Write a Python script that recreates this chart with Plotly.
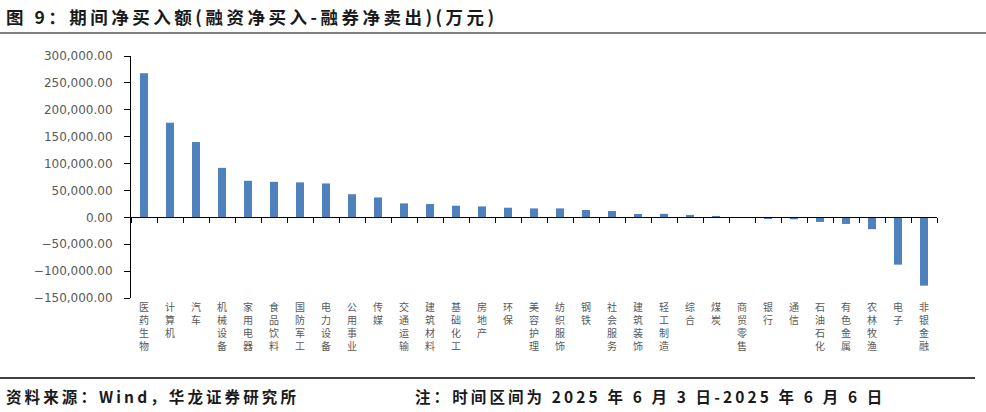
import plotly.graph_objects as go

# 行业与期间净买入额(万元)
industries = ['医药生物', '计算机', '汽车', '机械设备', '家用电器', '食品饮料', '国防军工',
              '电力设备', '公用事业', '传媒', '交通运输', '建筑材料', '基础化工', '房地产',
              '环保', '美容护理', '纺织服饰', '钢铁', '社会服务', '建筑装饰', '轻工制造',
              '综合', '煤炭', '商贸零售', '银行', '通信', '石油石化', '有色金属', '农林牧渔',
              '电子', '非银金融']
net_buy = [268000, 176000, 140000, 92000, 68000, 66000, 65000,
           63000, 43000, 37000, 25900, 24700, 21600, 20300,
           17900, 16600, 16600, 13600, 11700, 6200, 6500,
           4300, 800, -500, -1800, -3700, -8600, -12300, -22000,
           -88000, -127000]
y_ticks = list(range(-150000, 300001, 50000))

title_text = '图 9：期间净买入额(融资净买入-融券净卖出)(万元)'
source_text = '资料来源：Wind，华龙证券研究所'
note_text = '注：时间区间为 2025 年 6 月 3 日-2025 年 6 月 6 日'

W, H = 986, 412
L, R, T, B = 131, 937, 56, 298  # plot area in pixels

# stacked vertical labels, one character per line
stacked = ['<br>'.join(s) for s in industries]


def spaced(s):
    # mimic the wide letter spacing of the original
    return '\u2009'.join(s)


def px_to_paper_x(px):
    return (px - L) / (R - L)


def px_to_paper_y(py):
    return (B - py) / (B - T)


fig = go.Figure()
fig.add_trace(go.Bar(x=industries, y=net_buy, marker_color='#4F81BD',
                     marker_line_width=0, showlegend=False, xaxis='x'))
# carrier for the bottom label axis
fig.add_trace(go.Scatter(x=industries, y=net_buy, mode='markers', marker_opacity=0,
                         hoverinfo='skip', showlegend=False, xaxis='x2'))

n = len(industries)
fig.update_layout(
    width=W, height=H,
    margin=dict(l=L, r=W - R, t=T, b=H - B, pad=0),
    paper_bgcolor='white', plot_bgcolor='white',
    bargap=0.69,
    font=dict(family='DejaVu Sans', color='#595959'),
    xaxis=dict(
        type='category', anchor='free', position=1 / 3, range=[-0.5, n - 0.5],
        showline=True, linecolor='black', linewidth=1,
        ticks='outside', tickson='boundaries', ticklen=5, tickcolor='black',
        showticklabels=False, showgrid=False, zeroline=False, automargin=False,
    ),
    xaxis2=dict(
        type='category', overlaying='x', matches='x', anchor='y', side='bottom',
        showline=False, ticks='', showgrid=False, zeroline=False, automargin=False,
        tickmode='array', tickvals=industries, ticktext=stacked,
        tickfont=dict(family='Noto Sans CJK SC', size=10, color='#595959'),
        tickangle=0, ticklabelstandoff=2,
    ),
    yaxis=dict(
        range=[-150000, 300000], tickvals=y_ticks, tickformat=',.2f',
        showline=True, linecolor='black', linewidth=1,
        ticks='outside', ticklen=6, tickcolor='black',
        showgrid=False, zeroline=False, automargin=False,
        tickfont=dict(family='DejaVu Sans', size=12, color='#595959'),
        ticklabelstandoff=9,
    ),
    shapes=[
        dict(type='line', xref='paper', yref='paper',
             x0=px_to_paper_x(0), x1=px_to_paper_x(W),
             y0=px_to_paper_y(33), y1=px_to_paper_y(33),
             line=dict(color='#808080', width=2)),
        dict(type='line', xref='paper', yref='paper',
             x0=px_to_paper_x(0), x1=px_to_paper_x(975),
             y0=px_to_paper_y(378), y1=px_to_paper_y(378),
             line=dict(color='#404040', width=2)),
    ],
    annotations=[
        dict(text='<b>' + spaced(title_text) + '</b>',
             xref='paper', yref='paper', x=px_to_paper_x(4), y=px_to_paper_y(17),
             xanchor='left', yanchor='middle', showarrow=False,
             font=dict(family='Noto Sans CJK SC', size=17.5, color='#1a1a1a')),
        dict(text='<b>' + spaced(source_text) + '</b>',
             xref='paper', yref='paper', x=px_to_paper_x(4), y=px_to_paper_y(396),
             xanchor='left', yanchor='middle', showarrow=False,
             font=dict(family='Noto Sans CJK SC', size=15.5, color='#1a1a1a')),
        dict(text='<b>' + spaced(note_text) + '</b>',
             xref='paper', yref='paper', x=px_to_paper_x(413), y=px_to_paper_y(396),
             xanchor='left', yanchor='middle', showarrow=False,
             font=dict(family='Noto Sans CJK SC', size=15.5, color='#1a1a1a')),
    ],
)

# drop the default page margin so the figure fills the window, hide the modebar
fig.write_html('out.html', config={'displayModeBar': False},
               post_script="document.body.style.margin='0';")
